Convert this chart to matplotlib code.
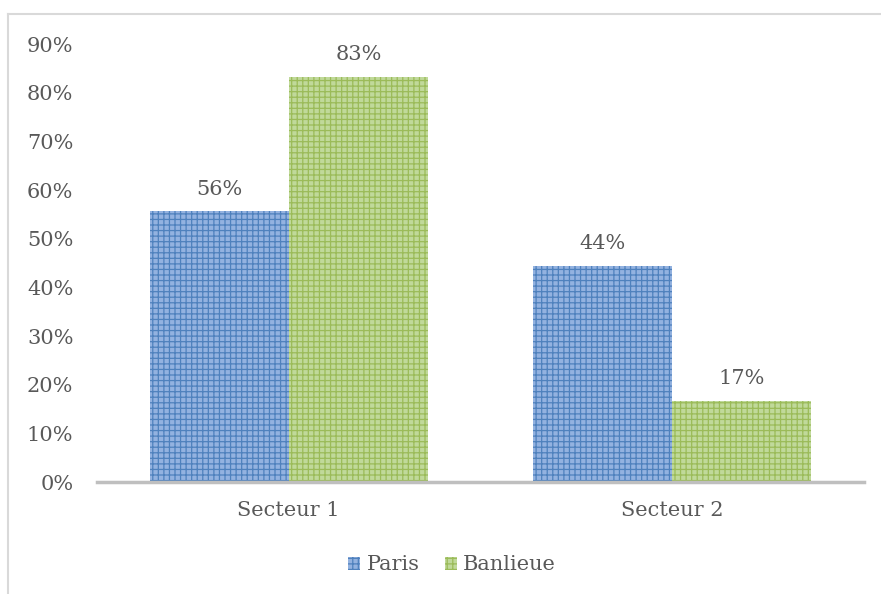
import matplotlib
matplotlib.use("Agg")
import matplotlib.pyplot as plt
import numpy as np
from matplotlib.lines import Line2D

categories = ["Secteur 1", "Secteur 2"]
paris = [55.6, 44.4]
banlieue = [83.3, 16.7]
paris_labels = ["56%", "44%"]
banlieue_labels = ["83%", "17%"]
yticks = [0, 10, 20, 30, 40, 50, 60, 70, 80, 90]
ytick_labels = ["0%", "10%", "20%", "30%", "40%", "50%", "60%", "70%", "80%", "90%"]

plt.rcParams["font.family"] = ["DejaVu Serif"]
plt.rcParams["hatch.linewidth"] = 0.9
text_color = "#595959"
fs = 15

fig = plt.figure(figsize=(8.81, 5.94), dpi=100)
ax = fig.add_axes([97/881, 112/594, (864-97)/881, (482-44)/594])

x = np.arange(len(categories))
w = 0.363
b1 = ax.bar(x - w/2, paris, w, color="#93B2E0", edgecolor="#4F81BD",
            hatch="+++", linewidth=0, label="Paris")
b2 = ax.bar(x + w/2, banlieue, w, color="#C0D99A", edgecolor="#9BBB59",
            hatch="+++", linewidth=0, label="Banlieue")

for rect, lab in zip(b1, paris_labels):
    ax.annotate(lab, (rect.get_x() + rect.get_width()/2, rect.get_height()),
                xytext=(0, 9), textcoords="offset points", ha="center", va="bottom",
                fontsize=fs, color=text_color)
for rect, lab in zip(b2, banlieue_labels):
    ax.annotate(lab, (rect.get_x() + rect.get_width()/2, rect.get_height()),
                xytext=(0, 9), textcoords="offset points", ha="center", va="bottom",
                fontsize=fs, color=text_color)

ax.set_xlim(-0.5, 1.5)
ax.set_ylim(0, 90)
ax.set_yticks(yticks)
ax.set_yticklabels(ytick_labels, fontsize=fs, color=text_color)
ax.set_xticks(x)
ax.set_xticklabels(categories, fontsize=fs, color=text_color)
ax.tick_params(axis="y", length=0, pad=17)
ax.tick_params(axis="x", length=0, pad=14)
for s in ["top", "right", "left"]:
    ax.spines[s].set_visible(False)
ax.spines["bottom"].set_color("#BFBFBF")
ax.spines["bottom"].set_linewidth(2.5)

leg = fig.legend(handles=[b1, b2], labels=["Paris", "Banlieue"], loc="center",
                 bbox_to_anchor=(452/881, 1 - 565/594), ncol=2, frameon=False,
                 fontsize=fs, handlelength=0.6, handleheight=0.6, handletextpad=0.3,
                 columnspacing=1.2, labelcolor=text_color)

# outer chart frame (top and left edges visible)
fig.add_artist(Line2D([8/881, 1.0], [1 - 14/594, 1 - 14/594], transform=fig.transFigure,
                      color="#D9D9D9", linewidth=1.5))
fig.add_artist(Line2D([8/881, 8/881], [0, 1 - 14/594], transform=fig.transFigure,
                      color="#D9D9D9", linewidth=1.5))

fig.savefig("out.png", dpi=100)
